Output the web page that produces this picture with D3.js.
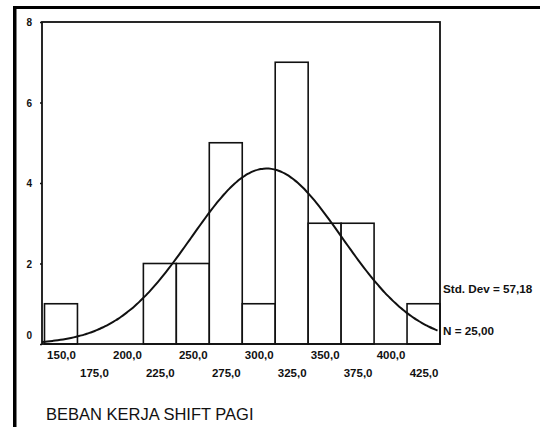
<!DOCTYPE html>
<html><head><meta charset="utf-8">
<script src="https://cdn.jsdelivr.net/npm/d3@7"></script>
<style>body{margin:0;background:#fff}svg{display:block}text{font-family:"Liberation Sans",Arial,sans-serif;fill:#111}</style>
</head><body><svg id="c" width="540" height="427"></svg>
<script>
const binCenters = [150,175,200,225,250,275,300,325,350,375,400,425];
const counts =     [1,  0,  0,  2,  2,  5,  1,  7,  3,  3,  0,  1];
const binWidth = 25;
const yTicks = [0,2,4,6,8];
const xLabelsRow1 = [150,200,250,300,350,400];
const xLabelsRow2 = [175,225,275,325,375,425];
const stdDev = 57.18;
const nTotal = 25;
const title = "BEBAN KERJA SHIFT PAGI";

const svg = d3.select("#c");
const L=42, R=440, T=22, B=344;
const x = d3.scaleLinear().domain([137.5,437.5]).range([44.5,440]);
const y = d3.scaleLinear().domain([0,8]).range([B,T]);
const fmt = v => d3.format(".1f")(v).replace(".",",");

// outer frame
svg.append("rect").attr("x",13).attr("y",6).attr("width",540).attr("height",3).attr("fill","#000");
svg.append("rect").attr("x",13).attr("y",6).attr("width",3.5).attr("height",427).attr("fill","#000");

// bars
svg.selectAll("rect.bar").data(binCenters.map((c,i)=>({c,n:counts[i]})).filter(d=>d.n>0))
  .enter().append("rect").attr("class","bar")
  .attr("x",d=>x(d.c-binWidth/2)).attr("width",d=>x(d.c+binWidth/2)-x(d.c-binWidth/2))
  .attr("y",d=>y(d.n)).attr("height",d=>y(0)-y(d.n))
  .attr("fill","#fff").attr("stroke","#111").attr("stroke-width",1.6);

// plot frame
svg.append("rect").attr("x",L).attr("y",T).attr("width",R-L).attr("height",B-T)
  .attr("fill","none").attr("stroke","#111").attr("stroke-width",1.8);

// y axis
const yAxis = d3.axisLeft(y).tickValues(yTicks).tickSize(2).tickPadding(8).tickFormat(d3.format("d"));
const ga = svg.append("g").attr("transform",`translate(${L},0)`).call(yAxis);
ga.select(".domain").remove();
ga.selectAll("line").attr("stroke","#111").attr("stroke-width",1.5);
ga.selectAll("text").style("font-size","10px").style("font-weight","bold")
  .attr("dy",d=>d===0?"-0.6em":"0.35em");

// x labels (two rows)
const xa1 = d3.axisBottom(x).tickValues(xLabelsRow1).tickSize(0).tickPadding(7).tickFormat(fmt);
const g1 = svg.append("g").attr("transform",`translate(0,${B})`).call(xa1);
g1.select(".domain").remove();
g1.selectAll("text").style("font-size","11.5px").style("font-weight","bold");
const xa2 = d3.axisBottom(x).tickValues(xLabelsRow2).tickSize(0).tickPadding(25).tickFormat(fmt);
const g2 = svg.append("g").attr("transform",`translate(0,${B})`).call(xa2);
g2.select(".domain").remove();
g2.selectAll("text").style("font-size","11.5px").style("font-weight","bold");

// normal curve
const mean = d3.sum(binCenters.map((c,i)=>c*counts[i]))/nTotal;
const dens = v => nTotal*binWidth/(stdDev*Math.sqrt(2*Math.PI))*Math.exp(-0.5*((v-mean)/stdDev)**2);
const pts = d3.range(x.invert(L), x.invert(R)+0.01, 2).map(v=>[v,dens(v)]);
svg.append("path").datum(pts)
  .attr("d",d3.line().x(d=>x(d[0])).y(d=>y(d[1])).curve(d3.curveBasis))
  .attr("fill","none").attr("stroke","#111").attr("stroke-width",2);

// stats
svg.append("text").attr("x",443).attr("y",293).style("font-size","11.7px").style("font-weight","bold")
  .text("Std. Dev = "+d3.format(".2f")(stdDev).replace(".",","));
svg.append("text").attr("x",443).attr("y",335).style("font-size","11.7px").style("font-weight","bold")
  .text("N = "+d3.format(".2f")(nTotal).replace(".",","));

// title
svg.append("text").attr("x",46).attr("y",420).style("font-size","16.5px").text(title);
</script></body></html>
